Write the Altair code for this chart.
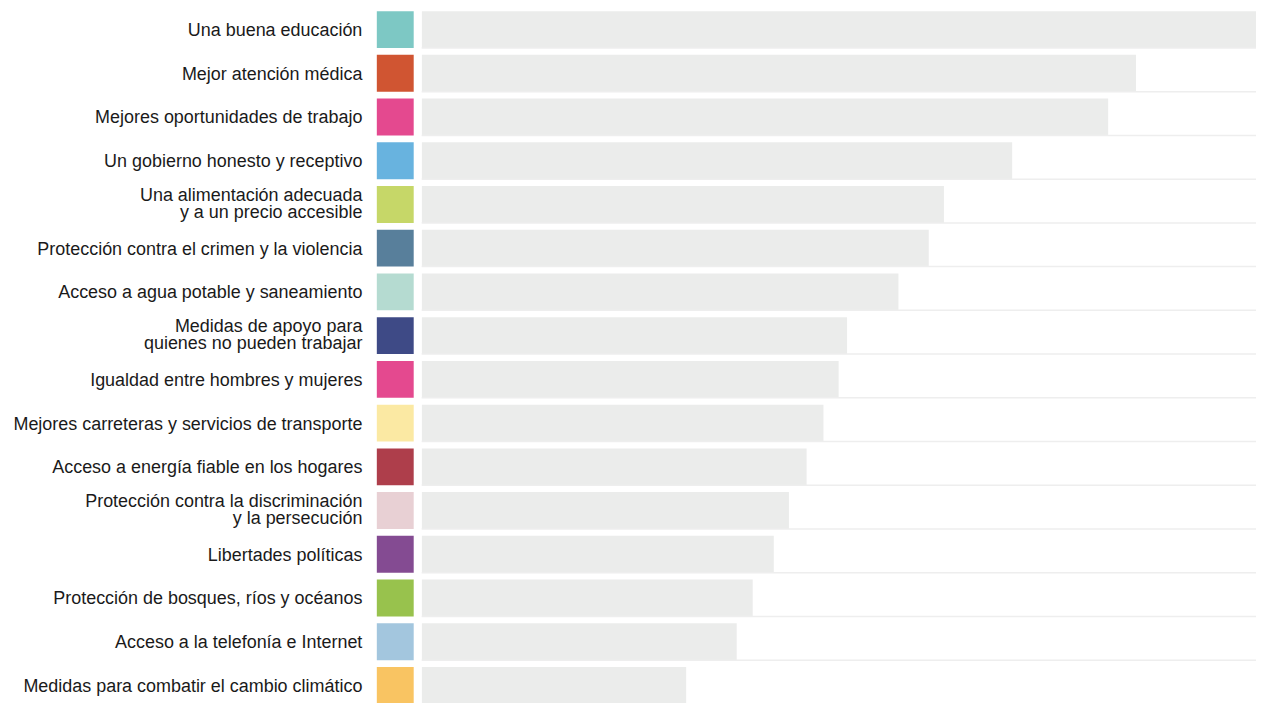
import altair as alt
import pandas as pd

categories = [
    "Una buena educación",
    "Mejor atención médica",
    "Mejores oportunidades de trabajo",
    "Un gobierno honesto y receptivo",
    "Una alimentación adecuada|y a un precio accesible",
    "Protección contra el crimen y la violencia",
    "Acceso a agua potable y saneamiento",
    "Medidas de apoyo para|quienes no pueden trabajar",
    "Igualdad entre hombres y mujeres",
    "Mejores carreteras y servicios de transporte",
    "Acceso a energía fiable en los hogares",
    "Protección contra la discriminación|y la persecución",
    "Libertades políticas",
    "Protección de bosques, ríos y océanos",
    "Acceso a la telefonía e Internet",
    "Medidas para combatir el cambio climático",
]
values = [100, 84.8, 81.5, 70.1, 62.0, 60.2, 56.6, 50.5, 49.5, 47.7, 45.7, 43.6, 41.8, 39.3, 37.4, 31.4]
colors = [
    "#7dc8c4", "#d05532", "#e4498f", "#68b3df", "#c6d768", "#587f9b",
    "#b5dbd1", "#3e4a86", "#e4498f", "#fbe9a3", "#ae3e4b", "#e8d0d4",
    "#844b92", "#98c24d", "#a3c6de", "#f9c462",
]

df = pd.DataFrame({"cat": categories, "value": values})

yscale = alt.Scale(paddingInner=0.157, paddingOuter=0.046)

squares = alt.Chart(df).mark_rect().encode(
    y=alt.Y("cat:N", sort=categories, scale=yscale, title=None,
            axis=alt.Axis(labelExpr="split(datum.label, '|')", ticks=False, domain=False,
                          labelPadding=15, labelFontSize=18, labelFont="Liberation Sans",
                          labelColor="#1a1a1a", labelLimit=600, labelLineHeight=17,
                          labelOffset=alt.condition("indexof(datum.label, '|') >= 0",
                                                    alt.value(-8.5), alt.value(1.5)))),
    color=alt.Color("cat:N", scale=alt.Scale(domain=categories, range=colors), legend=None),
).properties(width=37, height=699)

# plot width trimmed to fit the page; scale keeps the reference's px-per-unit, longest bar clipped
bars = alt.Chart(df).mark_bar(color="#ebeceb", clip=True).encode(
    y=alt.Y("cat:N", sort=categories, scale=yscale, axis=None),
    x=alt.X("value:Q", scale=alt.Scale(domain=[0, 99.05], nice=False, zero=True), axis=None),
)
rules = alt.Chart(df).mark_rule(color="#eeeeee", strokeWidth=1.5).encode(
    y=alt.Y("cat:N", sort=categories, scale=yscale, axis=None, bandPosition=1),
)
right = alt.layer(bars, rules).properties(width=837, height=699)

chart = alt.hconcat(squares, right, spacing=7).properties(
    padding={"left": 4, "top": 0, "right": 0, "bottom": 0}
).configure_view(stroke=None)

chart.save("out.html", embed_options={"renderer": "svg", "actions": False})
